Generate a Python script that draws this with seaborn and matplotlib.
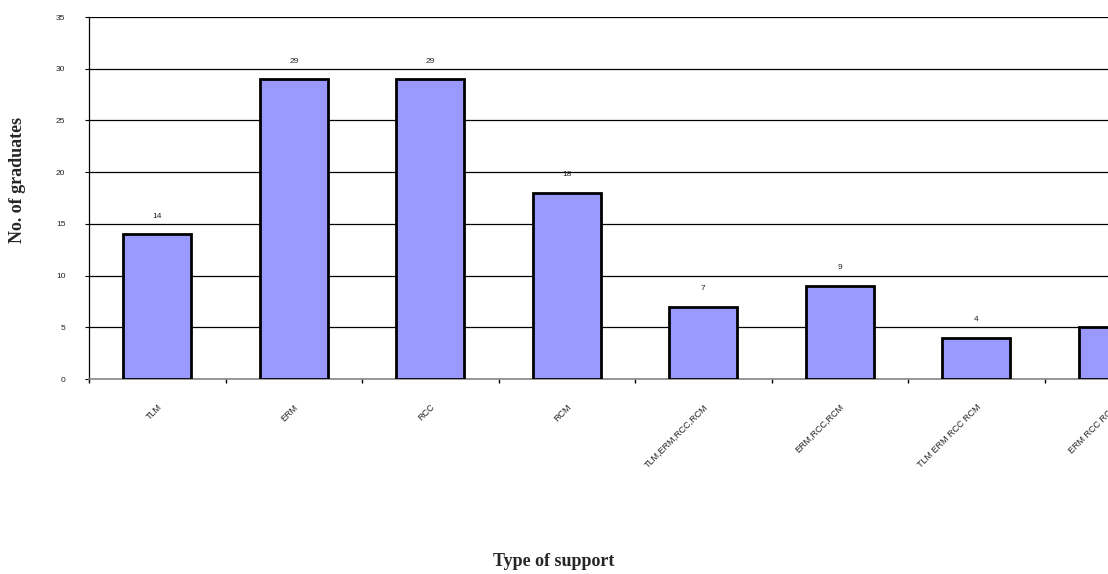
import matplotlib
matplotlib.use("Agg")
import matplotlib.pyplot as plt
import seaborn as sns
import pandas as pd
import numpy as np

categories = ["TLM", "ERM", "RCC", "RCM", "TLM,ERM,RCC,RCM", "ERM,RCC,RCM",
              "TLM ERM RCC RCM", "ERM RCC RCM"]
values = [14, 29, 29, 18, 7, 9, 4, 5]
yticks = [0, 5, 10, 15, 20, 25, 30, 35]

sns.set_theme(style="white")
plt.rcParams['font.family'] = ['Liberation Sans', 'DejaVu Sans']

df = pd.DataFrame({"cat": categories, "val": values})

fig = plt.figure(figsize=(11.08, 5.74), dpi=100)
ax = fig.add_axes([89/1108, (574-379)/574, 1092/1108, 362/574])

sns.barplot(data=df, x="cat", y="val", color="#9999FF", edgecolor="black",
            linewidth=2, width=0.5, saturation=1, ax=ax, zorder=3)

ax.set_xlim(-0.5, len(categories) - 0.5)
ax.set_ylim(0, 35)
ax.set_yticks(yticks)
ax.set_yticklabels([str(t) for t in yticks], fontsize=6, color="#222222")
ax.yaxis.grid(True, color="black", linewidth=0.9)
ax.set_axisbelow(True)

for s in ["top", "right"]:
    ax.spines[s].set_visible(False)
ax.spines["left"].set_color("black")
ax.spines["left"].set_linewidth(0.9)
ax.spines["bottom"].set_color("#888888")
ax.spines["bottom"].set_linewidth(1.2)

ax.tick_params(axis="y", left=True, length=3, width=0.8, color="black", pad=14)
ax.set_xticks(np.arange(len(categories)))
ax.set_xticklabels(categories, rotation=45, ha="right", rotation_mode="anchor",
                   fontsize=6.5, color="#222222")
ax.tick_params(axis="x", bottom=False, pad=11)
ax.set_xticks(np.arange(len(categories)) - 0.5, minor=True)
ax.tick_params(axis="x", which="minor", bottom=True, length=3, width=1, color="black")

for i, v in enumerate(values):
    ax.text(i, v + 1.4, str(v), ha="center", va="bottom", fontsize=6, color="#222222")

ax.set_xlabel("")
ax.set_ylabel("")
fig.text(18/1108, 1 - 180/574, "No. of graduates", rotation=90, ha="center", va="center",
         fontsize=13, fontweight="bold", family="Liberation Serif")
fig.text(554/1108, 1 - 562/574, "Type of support", ha="center", va="center",
         fontsize=13, fontweight="bold", family="Liberation Serif")

fig.savefig("out.png", dpi=100)
